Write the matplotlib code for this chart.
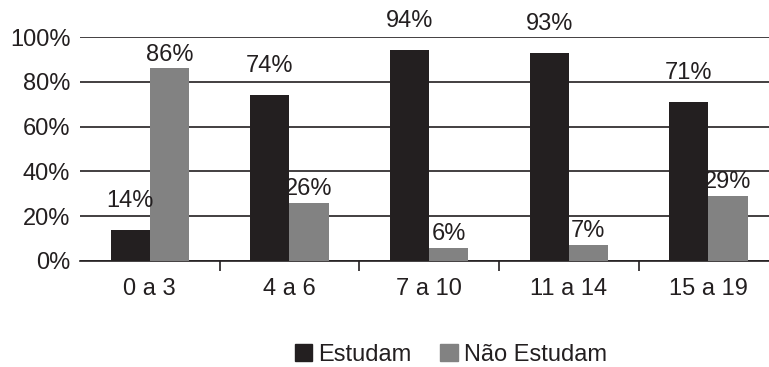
import matplotlib
matplotlib.use("Agg")
import matplotlib.pyplot as plt
from matplotlib.patches import Patch
import numpy as np

plt.rcParams['font.family'] = ['Liberation Sans', 'DejaVu Sans']

categories = ["0 a 3", "4 a 6", "7 a 10", "11 a 14", "15 a 19"]
estudam = [14, 74, 94, 93, 71]
nao_estudam = [86, 26, 6, 7, 29]
series_names = ["Estudam", "Não Estudam"]
y_ticks = [0, 20, 40, 60, 80, 100]

black = "#231f20"
grey = "#828282"
fs = 17

fig = plt.figure(figsize=(7.69, 3.67), dpi=100)
ax = fig.add_axes([0.104, 0.289, 0.908, 0.610])

x = np.arange(len(categories))
w = 0.28
b1 = ax.bar(x - w / 2, estudam, w, color=black, zorder=3)
b2 = ax.bar(x + w / 2, nao_estudam, w, color=grey, zorder=3)

for bars, vals, off in ((b1, estudam, 13), (b2, nao_estudam, 2)):
    for r, v in zip(bars, vals):
        ax.annotate(f"{v}%", (r.get_x() + r.get_width() / 2, v),
                    xytext=(0, off), textcoords="offset points",
                    ha="center", va="bottom", fontsize=fs, color=black,
                    annotation_clip=False)

ax.set_xlim(-0.5, len(categories) - 0.5)
ax.set_ylim(0, 100)
ax.set_yticks(y_ticks)
ax.set_yticklabels([f"{t}%" for t in y_ticks], fontsize=fs, color=black)
ax.tick_params(axis="y", length=0, pad=7)

ax.set_xticks(x)
ax.set_xticklabels(categories, fontsize=fs, color=black)
ax.tick_params(axis="x", which="major", length=0, pad=12)
ax.set_xticks(x[:-1] + 0.5, minor=True)
ax.tick_params(axis="x", which="minor", length=7, width=1.2, color=black, direction="out")

ax.grid(axis="y", color=black, linewidth=1.2, zorder=0)
for s in ("left", "right", "top"):
    ax.spines[s].set_visible(False)
ax.spines["bottom"].set_color(black)
ax.spines["bottom"].set_linewidth(1.2)

handles = [Patch(color=black), Patch(color=grey)]
fig.legend(handles, series_names, loc="center", bbox_to_anchor=(0.586, 0.033),
           ncol=2, frameon=False, fontsize=fs, handlelength=0.75, handleheight=0.75,
           handletextpad=0.25, columnspacing=1.2, labelcolor=black,
           borderpad=0, borderaxespad=0)

fig.savefig("out.png", dpi=100)
